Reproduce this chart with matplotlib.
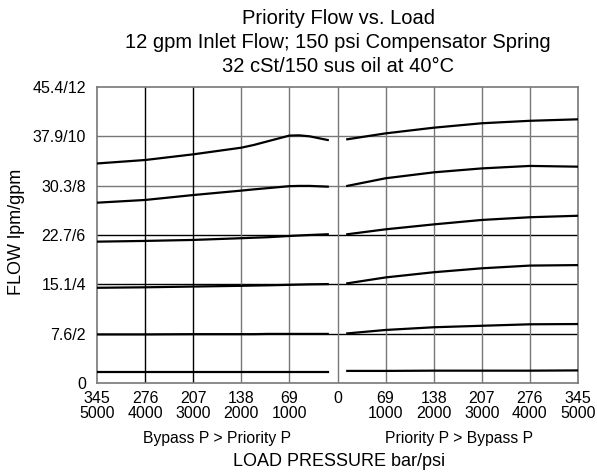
import matplotlib.pyplot as plt

plt.rcParams['font.family'] = ['Liberation Sans', 'DejaVu Sans']

# load pressure in bar (negative = bypass side), flow in gpm
left_x = [-345, -276, -207, -138, -120, -100, -69, -55, -40, -14]
right_x = [14, 69, 138, 207, 276, 345]

left_flows = [
    [8.90, 9.04, 9.27, 9.54, 9.65, 9.80, 10.03, 10.04, 10.00, 9.85],
    [7.31, 7.42, 7.62, 7.80, 7.85, 7.90, 7.98, 7.99, 7.99, 7.96],
    [5.73, 5.76, 5.80, 5.87, 5.89, 5.91, 5.96, 5.98, 6.00, 6.03],
    [3.86, 3.88, 3.91, 3.94, 3.95, 3.96, 3.98, 3.99, 4.00, 4.01],
    [1.97, 1.97, 1.98, 1.98, 1.98, 1.99, 1.99, 1.99, 1.99, 1.99],
    [0.45, 0.45, 0.45, 0.45, 0.45, 0.45, 0.45, 0.45, 0.45, 0.45],
]
right_flows = [
    [9.88, 10.12, 10.35, 10.53, 10.63, 10.69],
    [7.99, 8.30, 8.54, 8.70, 8.80, 8.77],
    [6.03, 6.23, 6.43, 6.61, 6.72, 6.78],
    [4.04, 4.28, 4.49, 4.65, 4.76, 4.78],
    [2.01, 2.15, 2.26, 2.32, 2.38, 2.39],
    [0.49, 0.49, 0.50, 0.50, 0.50, 0.51],
]

x_ticks = [-345, -276, -207, -138, -69, 0, 69, 138, 207, 276, 345]
x_labels = ["345\n5000", "276\n4000", "207\n3000", "138\n2000", "69\n1000", "0\n",
            "69\n1000", "138\n2000", "207\n3000", "276\n4000", "345\n5000"]
y_ticks = [0, 2, 4, 6, 8, 10, 12]
y_labels = ["0", "7.6/2", "15.1/4", "22.7/6", "30.3/8", "37.9/10", "45.4/12"]

fig = plt.figure(figsize=(5.97, 4.72), dpi=100)
ax = fig.add_axes([97 / 597, 89 / 472, 481 / 597, 296 / 472])

# grid: some lines are drawn black, the rest grey
for y in y_ticks[1:-1]:
    c = "black" if y in (2, 4, 6) else "#777777"
    ax.axhline(y, color=c, lw=1, zorder=1)
for x in x_ticks[1:-1]:
    c = "black" if x in (-276, -207) else "#777777"
    ax.axvline(x, color=c, lw=1, zorder=1)

for yl in left_flows:
    ax.plot(left_x, yl, color="black", lw=1.6, zorder=3)
for yr in right_flows:
    ax.plot(right_x, yr, color="black", lw=1.6, zorder=3)

ax.set_xlim(-345, 345)
ax.set_ylim(0, 12)
ax.set_xticks(x_ticks)
ax.set_xticklabels(x_labels, fontsize=11.5, linespacing=0.95)
ax.set_yticks(y_ticks)
ax.set_yticklabels(y_labels, fontsize=11.5)
ax.tick_params(axis="y", length=0, pad=8)
ax.tick_params(axis="x", length=0, pad=6)
for s in ax.spines.values():
    s.set_color("#777777")
    s.set_linewidth(1.2)

ax.set_ylabel("FLOW lpm/gpm", fontsize=13)
ax.yaxis.set_label_coords(-0.15, 0.51)
fig.text(217 / 597, 1 - 438 / 472, "Bypass P > Priority P", ha="center", va="center", fontsize=11.3)
fig.text(459 / 597, 1 - 438 / 472, "Priority P > Bypass P", ha="center", va="center", fontsize=11.3)
fig.text(339 / 597, 1 - 462 / 472, "LOAD PRESSURE bar/psi", ha="center", va="center", fontsize=13)

fig.text(338 / 597, 1 - 18 / 472, "Priority Flow vs. Load", ha="center", va="center", fontsize=14.5)
fig.text(338 / 597, 1 - 43 / 472, "12 gpm Inlet Flow; 150 psi Compensator Spring", ha="center", va="center", fontsize=14.5)
fig.text(338 / 597, 1 - 67 / 472, "32 cSt/150 sus oil at 40°C", ha="center", va="center", fontsize=14.5)

fig.savefig("out.png", dpi=100)
